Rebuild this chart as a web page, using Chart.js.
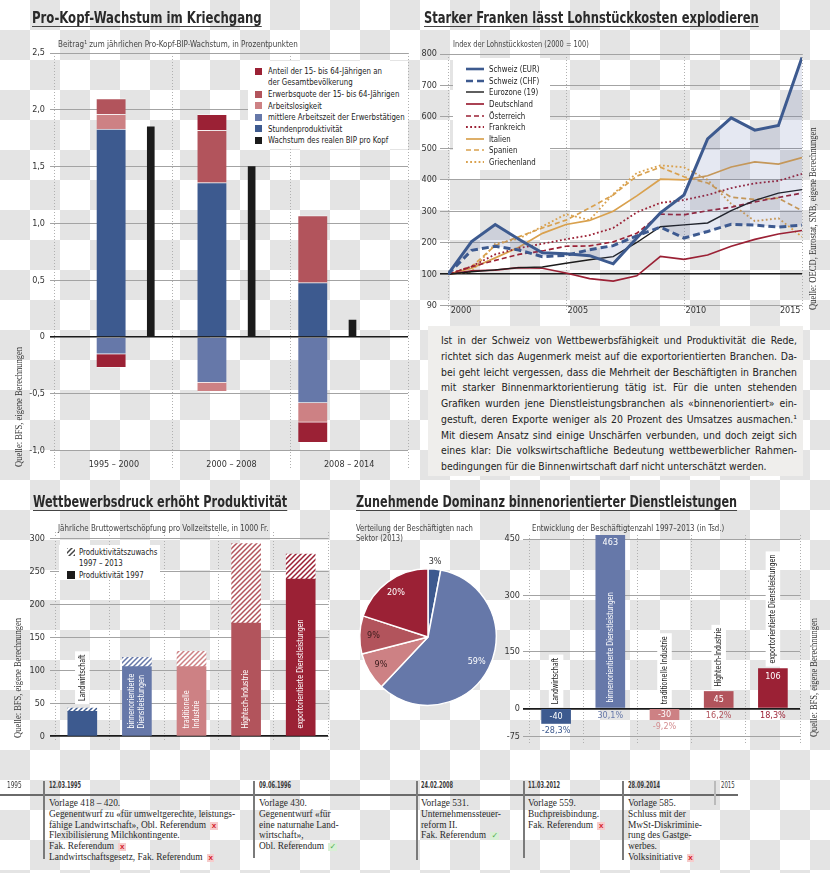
<!DOCTYPE html>
<html><head><meta charset="utf-8">
<script src="https://cdn.jsdelivr.net/npm/chart.js@4.4.1/dist/chart.umd.min.js"></script>
<style>
html,body{margin:0;padding:0;}
body{width:830px;height:873px;position:relative;overflow:hidden;
 background:repeating-conic-gradient(#e4e4e4 0 25%, #ffffff 0 50%) 0 0/60px 60px;
 font-family:"Liberation Sans Narrow","DejaVu Sans Condensed","Roboto Condensed",sans-serif;color:#222;}
canvas{position:absolute;}
.title{position:absolute;white-space:nowrap;font-weight:bold;font-size:16px;line-height:18px;color:#2a2a2a;
 text-decoration:underline;text-decoration-thickness:1px;text-underline-offset:3px;text-decoration-color:#444;transform-origin:0 50%;}
.sub{position:absolute;white-space:nowrap;font-size:9px;line-height:10px;color:#444;transform-origin:0 50%;}
.src{position:absolute;white-space:nowrap;font-family:"Liberation Serif","DejaVu Serif",serif;font-size:9.5px;line-height:11px;color:#333;transform-origin:0 0;transform:rotate(-90deg);}
.box{position:absolute;background:#fff;}
.lg{position:absolute;white-space:nowrap;font-size:9.5px;line-height:10px;color:#222;transform:scaleX(0.82);transform-origin:0 50%;}
.sq{position:absolute;width:7px;height:7px;}
.tl{position:absolute;white-space:nowrap;font-family:"Liberation Serif","DejaVu Serif",serif;font-size:9.4px;line-height:10.8px;color:#2a2a2a;}
.dt{position:absolute;white-space:nowrap;font-size:9px;font-weight:bold;color:#3a3a3a;line-height:9px;transform-origin:0 50%;}
.vl{position:absolute;width:1.5px;background:#7a7a7a;}
.no{display:inline-block;background:#f6cccc;color:#d4202a;font-family:"Liberation Sans",sans-serif;font-weight:bold;font-size:8px;line-height:8px;padding:0 1.5px;margin-left:2px;}
.ok{display:inline-block;background:#d9efd6;color:#4fae4a;font-family:"DejaVu Sans",sans-serif;font-weight:bold;font-size:8px;line-height:8px;padding:0 1px;margin-left:2px;}
#txt{position:absolute;left:428px;top:326px;width:375px;height:150px;background:#efeeec;}
#txt div{position:absolute;left:13px;width:378.7px;font-size:11px;line-height:15.75px;height:15.75px;color:#222;text-align:justify;text-align-last:justify;white-space:nowrap;transform:scaleX(0.94);transform-origin:0 50%;}
#txt div.last{text-align-last:left;}
</style></head>
<body>

<canvas id="c1" width="415" height="480" style="left:0;top:0"></canvas>
<canvas id="c2" width="415" height="322" style="left:415px;top:0"></canvas>
<canvas id="c3" width="335" height="270" style="left:0;top:480px"></canvas>
<canvas id="c4" width="170" height="170" style="left:343px;top:552px"></canvas>
<canvas id="c5" width="330" height="275" style="left:500px;top:480px"></canvas>

<!-- Titles -->
<div class="title" data-w="230" style="left:32px;top:9px;">Pro-Kopf-Wachstum im Kriechgang</div>
<div class="title" data-w="335" style="left:424px;top:9px;">Starker Franken lässt Lohnstückkosten explodieren</div>
<div class="title" data-w="254" style="left:33px;top:493px;">Wettbewerbsdruck erhöht Produktivität</div>
<div class="title" data-w="381" style="left:356px;top:493px;">Zunehmende Dominanz binnenorientierter Dienstleistungen</div>

<!-- Subtitles -->
<div class="sub" data-w="240" style="left:58px;top:39px;">Beitrag¹ zum jährlichen Pro-Kopf-BIP-Wachstum, in Prozentpunkten</div>
<div class="sub" data-w="136" style="left:453px;top:39px;">Index der Lohnstückkosten (2000 = 100)</div>
<div class="sub" data-w="211" style="left:58px;top:523px;">Jährliche Bruttowertschöpfung pro Vollzeitstelle, in 1000 Fr.</div>
<div class="sub" data-w="117" style="left:356px;top:523px;">Verteilung der Beschäftigten nach</div>
<div class="sub" data-w="47" style="left:356px;top:533px;">Sektor (2013)</div>
<div class="sub" data-w="192" style="left:532px;top:523px;">Entwicklung der Beschäftigtenzahl 1997–2013 (in Tsd.)</div>

<!-- Sources -->
<div class="src" data-w="120" data-rot="1" style="left:14px;top:467px;">Quelle: BFS, eigene Berechnungen</div>
<div class="src" data-w="183" data-rot="1" style="left:807.5px;top:310px;">Quelle: OECD, Eurostat, SNB, eigene Berechnungen</div>
<div class="src" data-w="120" data-rot="1" style="left:13px;top:738px;">Quelle: BFS, eigene Berechnungen</div>
<div class="src" data-w="119" data-rot="1" style="left:808.5px;top:737px;">Quelle: BFS, eigene Berechnungen</div>

<!-- Legend chart 1 -->
<div class="box" style="left:248px;top:61px;width:160px;height:88px;"></div>
<div class="sq" style="left:255px;top:67.5px;background:#9b2135"></div>
<div class="lg" style="left:268px;top:66px;">Anteil der 15- bis 64-Jährigen an</div>
<div class="lg" style="left:268px;top:77px;">der Gesamtbevölkerung</div>
<div class="sq" style="left:255px;top:90.5px;background:#b2545c"></div>
<div class="lg" style="left:268px;top:89px;">Erwerbsquote der 15- bis 64-Jährigen</div>
<div class="sq" style="left:255px;top:102px;background:#cd8184"></div>
<div class="lg" style="left:268px;top:100.5px;">Arbeitslosigkeit</div>
<div class="sq" style="left:255px;top:113.5px;background:#6678a9"></div>
<div class="lg" style="left:268px;top:112px;">mittlere Arbeitszeit der Erwerbstätigen</div>
<div class="sq" style="left:255px;top:125px;background:#3d5a8f"></div>
<div class="lg" style="left:268px;top:123.5px;">Stundenproduktivität</div>
<div class="sq" style="left:255px;top:136.5px;background:#1b1b1b"></div>
<div class="lg" style="left:268px;top:135px;">Wachstum des realen BIP pro Kopf</div>

<!-- Legend chart 2 -->
<div class="box" style="left:453px;top:58px;width:97px;height:112px;"></div>
<div id="lg2"></div>

<!-- Legend chart 3 -->
<div class="box" style="left:59px;top:545px;width:101px;height:35px;"></div>
<canvas id="hatchIcon" width="8" height="8" style="left:67px;top:548px;"></canvas>
<div class="lg" style="left:79px;top:547px;">Produktivitätszuwachs</div>
<div class="lg" style="left:79px;top:558px;">1997 – 2013</div>
<div class="sq" style="left:67px;top:571px;width:8px;height:8px;background:#1b1b1b"></div>
<div class="lg" style="left:79px;top:569.5px;">Produktivität 1997</div>

<!-- Text block -->
<div id="txt">
<div style="top:7px">Ist in der Schweiz von Wettbewerbsfähigkeit und Produktivität die Rede,</div>
<div style="top:22.75px">richtet sich das Augenmerk meist auf die exportorientierten Branchen. Da-</div>
<div style="top:38.5px">bei geht leicht vergessen, dass die Mehrheit der Beschäftigten in Branchen</div>
<div style="top:54.25px">mit starker Binnenmarktorientierung tätig ist. Für die unten stehenden</div>
<div style="top:70px">Grafiken wurden jene Dienstleistungsbranchen als «binnenorientiert» ein-</div>
<div style="top:85.75px">gestuft, deren Exporte weniger als 20 Prozent des Umsatzes ausmachen.¹</div>
<div style="top:101.5px">Mit diesem Ansatz sind einige Unschärfen verbunden, und doch zeigt sich</div>
<div style="top:117.25px">eines klar: Die volkswirtschaftliche Bedeutung wettbewerblicher Rahmen-</div>
<div class="last" style="top:133px">bedingungen für die Binnenwirtschaft darf nicht unterschätzt werden.</div>
</div>

<!-- Timeline -->
<div style="position:absolute;left:0;top:794px;width:738px;height:2px;background:#6a6a6a;"></div>
<div class="vl" style="left:43px;top:781px;height:78px;"></div>
<div class="vl" style="left:253px;top:781px;height:77px;"></div>
<div class="vl" style="left:416px;top:781px;height:79px;"></div>
<div class="vl" style="left:523px;top:781px;height:77px;"></div>
<div class="vl" style="left:622px;top:781px;height:79px;"></div>
<div class="vl" style="left:714px;top:781px;height:24px;background:#bbb"></div>
<div class="dt" data-w="15" style="left:7px;top:781px;font-weight:normal;">1995</div>
<div class="dt" data-w="32" style="left:49px;top:781px;">12.03.1995</div>
<div class="dt" data-w="32" style="left:259px;top:781px;">09.06.1996</div>
<div class="dt" data-w="32" style="left:421px;top:781px;">24.02.2008</div>
<div class="dt" data-w="32" style="left:528px;top:781px;">11.03.2012</div>
<div class="dt" data-w="32" style="left:628px;top:781px;">28.09.2014</div>
<div class="dt" data-w="14" style="left:721px;top:781px;font-weight:normal;">2015</div>

<div class="tl" style="left:49px;top:798px;">Vorlage 418 – 420.<br>Gegenentwurf zu «für umweltgerechte, leistungs-<br>fähige Landwirtschaft», Obl. Referendum <span class="no">x</span><br>Flexibilisierung Milchkontingente.<br>Fak. Referendum <span class="no">x</span><br>Landwirtschaftsgesetz, Fak. Referendum <span class="no">x</span></div>
<div class="tl" style="left:259px;top:798px;">Vorlage 430.<br>Gegenentwurf «für<br>eine naturnahe Land-<br>wirtschaft»,<br>Obl. Referendum <span class="ok">✓</span></div>
<div class="tl" style="left:421px;top:798px;">Vorlage 531.<br>Unternehmenssteuer-<br>reform II.<br>Fak. Referendum <span class="ok">✓</span></div>
<div class="tl" style="left:528px;top:798px;">Vorlage 559.<br>Buchpreisbindung.<br>Fak. Referendum <span class="no">x</span></div>
<div class="tl" style="left:628px;top:798px;">Vorlage 585.<br>Schluss mit der<br>MwSt-Diskriminie-<br>rung des Gastge-<br>werbes.<br>Volksinitiative <span class="no">x</span></div>

<script>
// ================= DATA =================
// Chart 1: Pro-Kopf-Wachstum
const periods = ['1995 – 2000', '2000 – 2008', '2008 – 2014'];
const stundenproduktivitaet = [1.83, 1.36, 0.48];
const arbeitszeit = [-0.15, -0.40, -0.58];
const arbeitslosigkeit = [0.13, -0.08, -0.17];
const erwerbsquote = [0.14, 0.46, 0.59];
const anteil1564 = [-0.12, 0.14, -0.18];
const bipProKopf = [1.85, 1.50, 0.15];
const growthTicks = [-1, -0.5, 0, 0.5, 1, 1.5, 2, 2.5];

// Chart 2: Lohnstückkosten (2000 = 100)
const years = [2000,2001,2002,2003,2004,2005,2006,2007,2008,2009,2010,2011,2012,2013,2014,2015];
const schweizEUR   = [100,204,258,211,168,165,159,133,215,295,352,530,597,558,573,789];
const schweizCHF   = [100,176,189,177,156,160,178,191,222,250,215,236,259,256,250,256];
const eurozone     = [100,108,114,121,123,135,146,156,201,251,257,263,302,335,358,369];
const deutschland  = [100,111,113,121,119,104,98.6,97.8,99.5,157,147,161,189,211,228,239];
const oesterreich  = [100,124,144,163,174,189,190,203,230,291,289,302,313,330,344,358];
const frankreich   = [100,125,163,183,197,211,224,247,297,327,336,352,374,389,397,419];
const italien      = [100,119,152,186,230,258,271,300,349,402,400,413,441,457,450,471];
const spanien      = [100,124,191,219,247,272,311,352,412,440,410,390,345,338,342,302];
const griechenland = [100,108,197,213,252,291,272,355,422,446,440,400,324,269,278,219];
const indexTicks = [90,100,200,300,400,500,600,700,800];
const yearTickLabels = ['2000','2005','2010','2015'];

// Chart 3: Produktivität
const sectors = ['Landwirtschaft','binnenorientierte Dienstleistungen','traditionelle Industrie','Hightech-Industrie','exportorientierte Dienstleistungen'];
const sectorLines = [['Landwirtschaft'],['binnenorientierte','Dienstleistungen'],['traditionelle','Industrie'],['Hightech-Industrie'],['exportorientierte Dienstleistungen']];
const prod1997 = [38, 106, 106, 172, 239];
const prodZuwachs = [5, 14, 23, 121, 38];
const prodTicks = [0, 50, 100, 150, 200, 250, 300];

// Chart 4: Verteilung der Beschäftigten 2013 (%)
const shares2013 = [3, 59, 9, 9, 20];

// Chart 5: Entwicklung der Beschäftigtenzahl (Tsd.)
const jobChange = [-40, 463, -30, 45, 106];
const jobChangePct = ['-28,3%','30,1%','-9,2%','16,2%','18,3%'];
const jobTicks = [-75, 0, 150, 300, 450];

// ================= STYLE =================
const FONT = '"Liberation Sans Narrow","DejaVu Sans Condensed","Roboto Condensed",sans-serif';
const C = {dblue:'#3d5a8f', mblue:'#6678a9', pink:'#cd8184', red:'#b2545c', dred:'#9b2135', black:'#1b1b1b', gold:'#d9a14e', grid:'#a3a3a3', dot:'#b0b0b0'};
const sectorColors = [C.dblue, C.mblue, C.pink, C.red, C.dred];
Chart.defaults.font.family = FONT;
Chart.defaults.font.size = 9;
Chart.defaults.color = '#333';
Chart.defaults.animation = false;
Chart.defaults.responsive = false;
Chart.defaults.plugins.legend.display = false;
Chart.defaults.plugins.tooltip.enabled = false;

const fmtDE = v => v === 0 ? '0' : v.toFixed(1).replace('.', ',');
const fixTicks = arr => s => { s.ticks = arr.map(v => ({value: v})); };
const gridCol = zero => ctx => (ctx.tick && ctx.tick.value === zero) ? '#1b1b1b' : C.grid;
const gridW = (zero, w) => ctx => (ctx.tick && ctx.tick.value === zero) ? w : 1;

// ---------- Chart 1 ----------
const at = (arr, off) => arr.map((v, i) => ({x: i + off, y: v}));
const stackOff = 0.45, blackOff = 0.665;
const stackDs = (label, arr, col) => ({label, data: at(arr, stackOff), backgroundColor: col, xAxisID: 'xd', barThickness: 29,
  borderWidth: {top: 1, bottom: 1, left: 0, right: 0}, borderColor: 'rgba(255,255,255,0.45)', borderSkipped: 'start'});
new Chart(document.getElementById('c1'), {
  type: 'bar',
  data: {
    labels: periods,
    datasets: [
      stackDs('Stundenproduktivität', stundenproduktivitaet, C.dblue),
      stackDs('mittlere Arbeitszeit der Erwerbstätigen', arbeitszeit, C.mblue),
      stackDs('Arbeitslosigkeit', arbeitslosigkeit, C.pink),
      stackDs('Erwerbsquote der 15- bis 64-Jährigen', erwerbsquote, C.red),
      stackDs('Anteil der 15- bis 64-Jährigen an der Gesamtbevölkerung', anteil1564, C.dred),
      {label: 'Wachstum des realen BIP pro Kopf', data: at(bipProKopf, blackOff), backgroundColor: C.black, xAxisID: 'xd2', barThickness: 7}
    ]
  },
  options: {
    layout: {padding: {top: 53, right: 7, left: 0, bottom: 0}},
    scales: {
      x: {type: 'category', labels: periods, offset: true, position: 'bottom',
          grid: {offset: true, color: C.dot, drawTicks: false}, border: {display: false, dash: [1, 2]},
          ticks: {mirror: true, padding: -0.5, color: '#333', font: {size: 9}}, afterFit: s => { s.height = 8; }},
      xd: {type: 'linear', axis: 'x', display: false, min: 0, max: 3, stacked: true},
      xd2: {type: 'linear', axis: 'x', display: false, min: 0, max: 3},
      y: {type: 'linear', min: -1.166, max: 2.5, stacked: true, afterBuildTicks: fixTicks(growthTicks),
          ticks: {callback: v => fmtDE(v), padding: 5, color: '#333'},
          grid: {color: gridCol(0), lineWidth: gridW(0, 1.6), tickColor: gridCol(0), tickLength: 5},
          border: {display: false}, afterFit: s => { s.width = 55; }}
    }
  }
});

// ---------- Chart 2 ----------
const tIdx = v => v >= 100 ? v : 100 - (100 - v) * 10;   // broken axis 90..100
const pts = arr => arr.map((v, i) => ({x: years[i], y: tIdx(v)}));
const line = (label, arr, col, w, dash) => ({label, data: pts(arr), borderColor: col, borderWidth: w, borderDash: dash || [], pointRadius: 0, fill: false, tension: 0});
const lineSets = [
  Object.assign(line('Schweiz (EUR)', schweizEUR, C.dblue, 3), {fill: {target: 1, above: 'rgba(70,90,165,0.14)', below: 'rgba(70,90,165,0.14)'}}),
  line('Schweiz (CHF)', schweizCHF, C.dblue, 3, [7, 4]),
  line('Eurozone (19)', eurozone, C.black, 1.4),
  line('Deutschland', deutschland, C.dred, 1.7),
  line('Österreich', oesterreich, C.dred, 1.7, [5, 3]),
  line('Frankreich', frankreich, C.dred, 1.8, [1.8, 2.4]),
  line('Italien', italien, C.gold, 1.7),
  line('Spanien', spanien, C.gold, 1.7, [5, 3]),
  line('Griechenland', griechenland, C.gold, 1.8, [1.8, 2.4])
];
const yearLabelPos = [years[0] + 0.55, years[5] + 0.5, years[10] + 0.5, years[15] - 0.5];
new Chart(document.getElementById('c2'), {
  type: 'line',
  data: {datasets: lineSets},
  options: {
    layout: {padding: {top: 54, right: 28, left: 0, bottom: 0}},
    scales: {
      x: {type: 'linear', min: years[0], max: years[years.length - 1], afterBuildTicks: fixTicks([2000, 2005, 2010, 2015]),
          ticks: {display: false}, grid: {color: C.dot, drawTicks: false}, border: {display: false, dash: [1, 2]},
          afterFit: s => { s.height = 0; }},
      xl: {type: 'linear', axis: 'x', position: 'bottom', min: years[0], max: years[years.length - 1],
           afterBuildTicks: fixTicks(yearLabelPos), grid: {display: false, drawTicks: false}, border: {display: false},
           ticks: {callback: (v, i) => yearTickLabels[i], mirror: true, padding: -4.4, maxRotation: 0, autoSkip: false, color: '#333'},
           afterFit: s => { s.height = 10; }},
      y: {type: 'linear', min: -20, max: 800, afterBuildTicks: fixTicks(indexTicks.map(tIdx)),
          ticks: {callback: v => String(v === 0 ? 90 : v), padding: 3, color: '#333'},
          grid: {color: gridCol(100), lineWidth: gridW(100, 1.6), tickColor: gridCol(100), tickLength: 8},
          border: {display: false}, afterFit: s => { s.width = 33; }}
    }
  }
});
// HTML legend for chart 2 (built from the dataset styles)
(function(){
  const host = document.getElementById('lg2');
  lineSets.forEach((ds, i) => {
    const y = 69.3 + i * 11.55;
    const dash = (ds.borderDash || []).join(',');
    const svg = `<svg style="position:absolute;left:466px;top:${y - 3}px" width="18" height="6"><line x1="0" y1="3" x2="18" y2="3" stroke="${ds.borderColor}" stroke-width="${Math.min(ds.borderWidth, 2.6)}" ${dash ? `stroke-dasharray="${dash}"` : ''}/></svg>`;
    host.insertAdjacentHTML('beforeend', svg + `<div class="lg" style="left:489px;top:${y - 5}px;">${ds.label}</div>`);
  });
})();

// ---------- Chart 3 ----------
function hatch(color){
  const c = document.createElement('canvas'); c.width = 5; c.height = 5;
  const g = c.getContext('2d');
  g.fillStyle = 'rgba(255,255,255,0.9)'; g.fillRect(0, 0, 5, 5);
  g.strokeStyle = color; g.lineWidth = 1.5; g.beginPath();
  g.moveTo(-1, 6); g.lineTo(6, -1); g.moveTo(-1, 1); g.lineTo(1, -1); g.moveTo(4, 6); g.lineTo(6, 4); g.stroke();
  return document.createElement('canvas').getContext('2d').createPattern(c, 'repeat');
}
(function(){ const g = document.getElementById('hatchIcon').getContext('2d'); g.fillStyle = hatch('#444'); g.fillRect(0, 0, 8, 8); })();

const NARROW = 0.78;
function vtext(ctx, lines, x, yStart, color, box, lh){
  lh = lh || 9.5;
  ctx.save(); ctx.translate(x, yStart); ctx.rotate(-Math.PI / 2); ctx.scale(NARROW, 1);
  ctx.font = '9px ' + FONT; ctx.textBaseline = 'middle'; ctx.textAlign = 'left';
  const w = Math.max(...lines.map(l => ctx.measureText(l).width));
  const n = lines.length;
  if (box) { ctx.fillStyle = '#fff'; ctx.fillRect(-4, -n * lh / 2 - 2.5, w + 8, n * lh + 5); }
  ctx.fillStyle = color;
  lines.forEach((l, j) => ctx.fillText(l, 0, (j - (n - 1) / 2) * lh));
  ctx.restore();
}
const prodLabels = {
  id: 'prodLabels',
  afterDatasetsDraw(chart){
    const ctx = chart.ctx, m0 = chart.getDatasetMeta(0), m1 = chart.getDatasetMeta(1);
    m0.data.forEach((bar, i) => {
      if (i === 0) vtext(ctx, sectorLines[i], bar.x, m1.data[i].y - 7, '#222', true);
      else vtext(ctx, sectorLines[i], bar.x, bar.base - 7, '#fff', false);
    });
  }
};
new Chart(document.getElementById('c3'), {
  type: 'bar',
  data: {
    labels: sectors,
    datasets: [
      {label: 'Produktivität 1997', data: prod1997, backgroundColor: sectorColors, barThickness: 29},
      {label: 'Produktivitätszuwachs 1997–2013', data: prodZuwachs, backgroundColor: sectorColors.map(hatch), barThickness: 29}
    ]
  },
  options: {
    layout: {padding: {top: 52, right: 7, left: 0, bottom: 0}},
    scales: {
      x: {stacked: true, offset: true, grid: {offset: true, color: C.dot, drawTicks: false}, border: {display: false, dash: [1, 2]},
          ticks: {display: false}, afterFit: s => { s.height = 8; }},
      y: {stacked: true, min: -5, max: 310.5, afterBuildTicks: fixTicks(prodTicks),
          ticks: {padding: 5, color: '#333'},
          grid: {color: gridCol(0), lineWidth: gridW(0, 1.8), tickColor: gridCol(0), tickLength: 5},
          border: {display: false}, afterFit: s => { s.width = 55; }}
    }
  },
  plugins: [prodLabels]
});

// ---------- Chart 4 (pie) ----------
const pieLabels = {
  id: 'pieLabels',
  afterDatasetsDraw(chart){
    const ctx = chart.ctx, meta = chart.getDatasetMeta(0);
    const txtCol = ['#333', '#fff', '#3a1c1c', '#3a1c1c', '#fff'];
    meta.data.forEach((arc, i) => {
      const p = arc.getProps(['x', 'y', 'startAngle', 'endAngle', 'outerRadius'], true);
      const mid = (p.startAngle + p.endAngle) / 2;
      const v = shares2013[i];
      const rf = v < 5 ? 1.11 : 0.8;
      ctx.save();
      ctx.font = '9px ' + FONT; ctx.textAlign = 'center'; ctx.textBaseline = 'middle';
      ctx.fillStyle = txtCol[i];
      ctx.fillText(v + '%', p.x + Math.cos(mid) * p.outerRadius * rf, p.y + Math.sin(mid) * p.outerRadius * rf);
      ctx.restore();
    });
  }
};
new Chart(document.getElementById('c4'), {
  type: 'pie',
  data: {labels: sectors, datasets: [{data: shares2013, backgroundColor: sectorColors, borderColor: '#fff', borderWidth: 1.5}]},
  options: {layout: {padding: 16}},
  plugins: [pieLabels]
});

// ---------- Chart 5 ----------
const pctColors = [C.dblue, C.mblue, '#d48d90', C.red, C.dred];
const jobLabels = {
  id: 'jobLabels',
  afterDatasetsDraw(chart){
    const ctx = chart.ctx, meta = chart.getDatasetMeta(0);
    meta.data.forEach((bar, i) => {
      const v = jobChange[i];
      const top = Math.min(bar.y, bar.base), bottom = Math.max(bar.y, bar.base);
      ctx.save();
      ctx.font = '9px ' + FONT; ctx.textAlign = 'center'; ctx.textBaseline = 'middle';
      ctx.fillStyle = '#fff';
      ctx.fillText(String(v), bar.x, v >= 0 ? top + 8.5 : (top + bottom) / 2);
      ctx.fillStyle = pctColors[i];
      ctx.fillText(jobChangePct[i], bar.x, v >= 0 ? bar.base + 8 : bottom + 7);
      ctx.restore();
      if (i === 1) vtext(ctx, [sectors[i]], bar.x, bar.base - 5, '#fff', false);
      else vtext(ctx, [sectors[i]], bar.x, top - 5, '#222', true);
    });
  }
};
new Chart(document.getElementById('c5'), {
  type: 'bar',
  data: {labels: sectors, datasets: [{label: 'Entwicklung 1997–2013', data: jobChange, backgroundColor: sectorColors, barThickness: 29}]},
  options: {
    layout: {padding: {top: 55, right: 30, left: 0, bottom: 0}},
    scales: {
      x: {offset: true, grid: {offset: true, color: C.dot, drawTicks: false}, border: {display: false, dash: [1, 2]},
          ticks: {display: false}, afterFit: s => { s.height = 10; }},
      y: {min: -97.2, max: 460.7, afterBuildTicks: fixTicks(jobTicks),
          ticks: {padding: 3, color: '#333'},
          grid: {color: gridCol(0), lineWidth: gridW(0, 1.8), tickColor: gridCol(0), tickLength: 6},
          border: {display: false}, afterFit: s => { s.width = 29; }}
    }
  },
  plugins: [jobLabels]
});

// ---------- fit text widths ----------
document.querySelectorAll('[data-w]').forEach(el => {
  const k = (+el.dataset.w) / el.offsetWidth;
  el.style.transform = (el.dataset.rot ? 'rotate(-90deg) ' : '') + 'scaleX(' + k.toFixed(3) + ')';
});
</script>
</body></html>
